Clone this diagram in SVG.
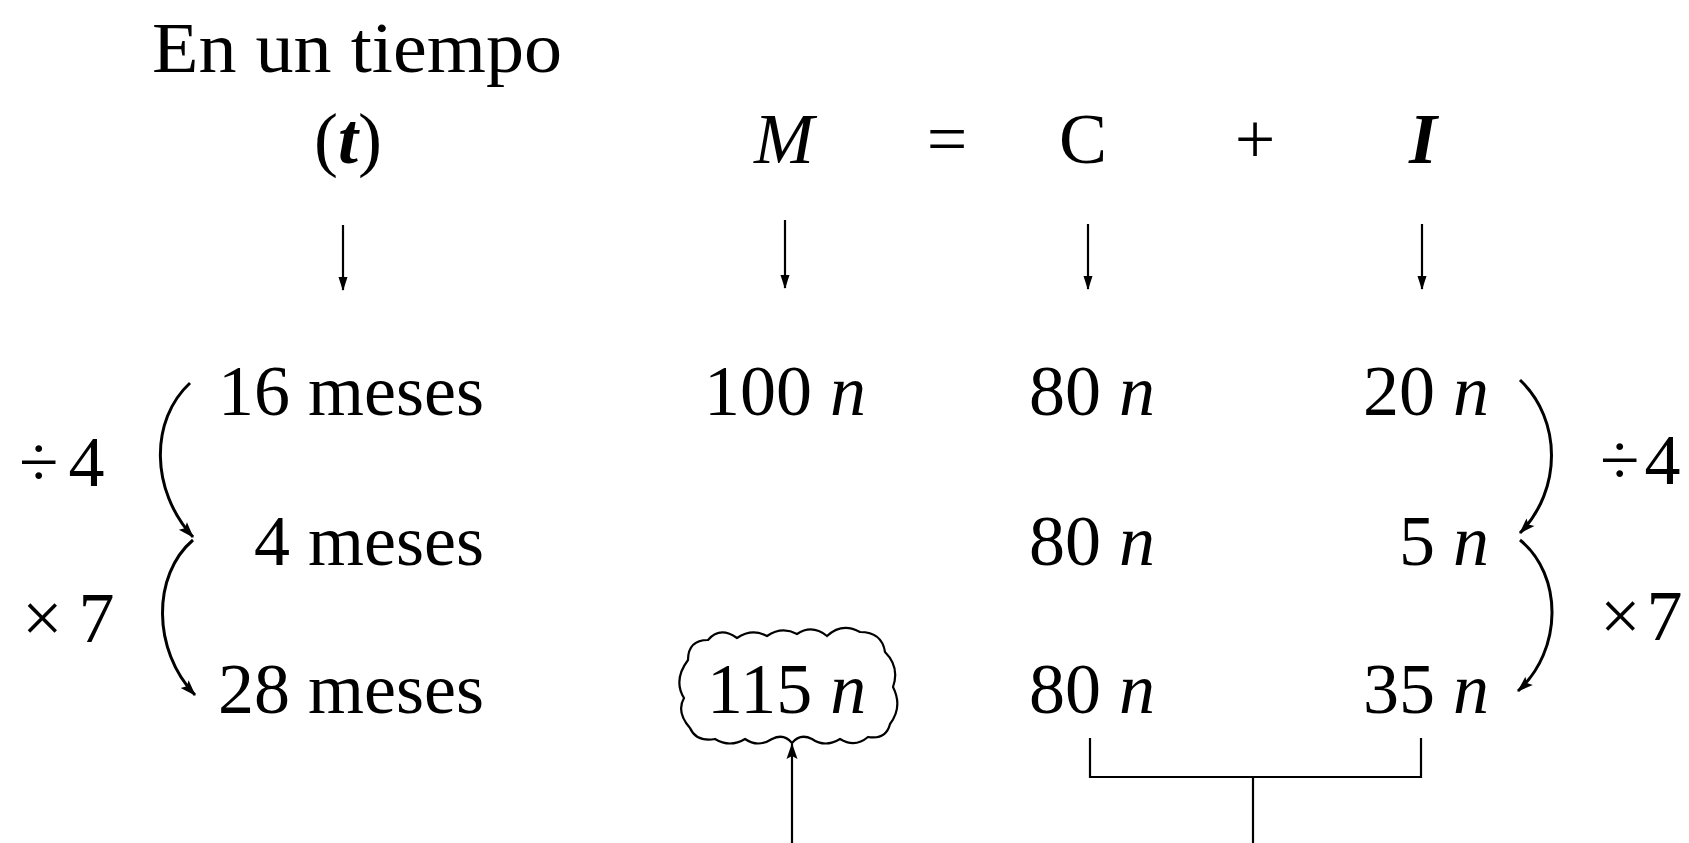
<svg xmlns="http://www.w3.org/2000/svg" width="1689" height="843" viewBox="0 0 1689 843">
<style>
  .t { font-family: "Liberation Serif", "Times New Roman", serif; font-size: 72px; fill: #000; }
  .i { font-style: italic; }
  .bi { font-style: italic; font-weight: bold; }
  .ln { fill: none; stroke: #000; stroke-width: 2.2; }
  .br { fill: none; stroke: #000; stroke-width: 3; }
</style>
<defs>
  <marker id="ah" viewBox="0 0 14 10" refX="13" refY="5" markerWidth="15" markerHeight="10" markerUnits="userSpaceOnUse" orient="auto">
    <path d="M0,0.5 L14,5 L0,9.5 Z" fill="#000"/>
  </marker>
  <marker id="ahb" viewBox="0 0 16 12" refX="15" refY="6" markerWidth="18" markerHeight="12" markerUnits="userSpaceOnUse" orient="auto">
    <path d="M0,0.5 L16,6 L0,11.5 L3,6 Z" fill="#000"/>
  </marker>
</defs>
<rect width="1689" height="843" fill="#fff"/>

<g id="header">
  <text class="t" x="152" y="72" textLength="410" lengthAdjust="spacingAndGlyphs">En un tiempo</text>
</g>
<g id="var-t"><text class="t" x="348" y="163" text-anchor="middle">(<tspan class="bi">t</tspan>)</text></g>
<g id="var-M"><text class="t i" x="784" y="163" text-anchor="middle">M</text></g>
<g id="eq"><text class="t" x="947" y="163" text-anchor="middle">=</text></g>
<g id="var-C"><text class="t" x="1083" y="163" text-anchor="middle">C</text></g>
<g id="plus"><text class="t" x="1255" y="163" text-anchor="middle">+</text></g>
<g id="var-I"><text class="t bi" x="1423" y="163" text-anchor="middle">I</text></g>

<g id="row1">
  <text class="t" x="484" y="415" text-anchor="end">16 meses</text>
  <text class="t" x="704" y="415">100 <tspan class="i">n</tspan></text>
  <text class="t" x="1029" y="415">80 <tspan class="i">n</tspan></text>
  <text class="t" x="1489" y="415" text-anchor="end">20 <tspan class="i">n</tspan></text>
</g>
<g id="row2">
  <text class="t" x="484" y="565" text-anchor="end">4 meses</text>
  <text class="t" x="1029" y="565">80 <tspan class="i">n</tspan></text>
  <text class="t" x="1489" y="565" text-anchor="end">5 <tspan class="i">n</tspan></text>
</g>
<g id="row3">
  <text class="t" x="484" y="713" text-anchor="end">28 meses</text>
  <text class="t" x="1029" y="713">80 <tspan class="i">n</tspan></text>
  <text class="t" x="1489" y="713" text-anchor="end">35 <tspan class="i">n</tspan></text>
</g>
<g id="result">
  <path class="ln" d="M688 660 Q688 640 708 640 Q720 626 737 638 Q752 628 767 636 Q782 626 797 634 Q812 624 827 636 Q842 622 860 632 Q882 632 885 652 Q900 667 893 687 Q903 707 890 724 Q886 740 868 737 Q855 748 840 739 Q825 748 812 739 Q800 733 792 743 Q784 733 772 739 Q758 748 745 739 Q730 748 715 739 Q696 742 690 728 Q676 712 684 698 Q673 680 688 660 Z"/>
  <text class="t" x="707" y="713">115 <tspan class="i">n</tspan></text>
</g>
<g id="ops-left">
  <text class="t" x="19" y="486">÷<tspan dx="10">4</tspan></text>
  <text class="t" x="22" y="642">×<tspan dx="16">7</tspan></text>
</g>
<g id="ops-right">
  <text class="t" x="1600" y="484">÷<tspan dx="5">4</tspan></text>
  <text class="t" x="1600" y="640">×<tspan dx="6">7</tspan></text>
</g>

<g id="connectors">
  <line class="ln" x1="343" y1="225" x2="343" y2="290" marker-end="url(#ah)"/>
  <line class="ln" x1="785" y1="220" x2="785" y2="288" marker-end="url(#ah)"/>
  <line class="ln" x1="1088" y1="224" x2="1088" y2="289" marker-end="url(#ah)"/>
  <line class="ln" x1="1422" y1="224" x2="1422" y2="289" marker-end="url(#ah)"/>
  <path class="br" d="M190 383 C150 420 150 490 193 537" marker-end="url(#ahb)"/>
  <path class="br" d="M193 540 C152 575 152 650 195 695" marker-end="url(#ahb)"/>
  <path class="br" d="M1520 380 C1562 420 1562 490 1520 533" marker-end="url(#ahb)"/>
  <path class="br" d="M1520 540 C1563 575 1563 650 1518 691" marker-end="url(#ahb)"/>
  <path class="ln" d="M1090 738 L1090 777 L1421 777 L1421 738"/>
  <line class="ln" x1="1253" y1="777" x2="1253" y2="843"/>
  <line class="ln" x1="792" y1="843" x2="792" y2="744" marker-end="url(#ahb)"/>
</g>
</svg>
